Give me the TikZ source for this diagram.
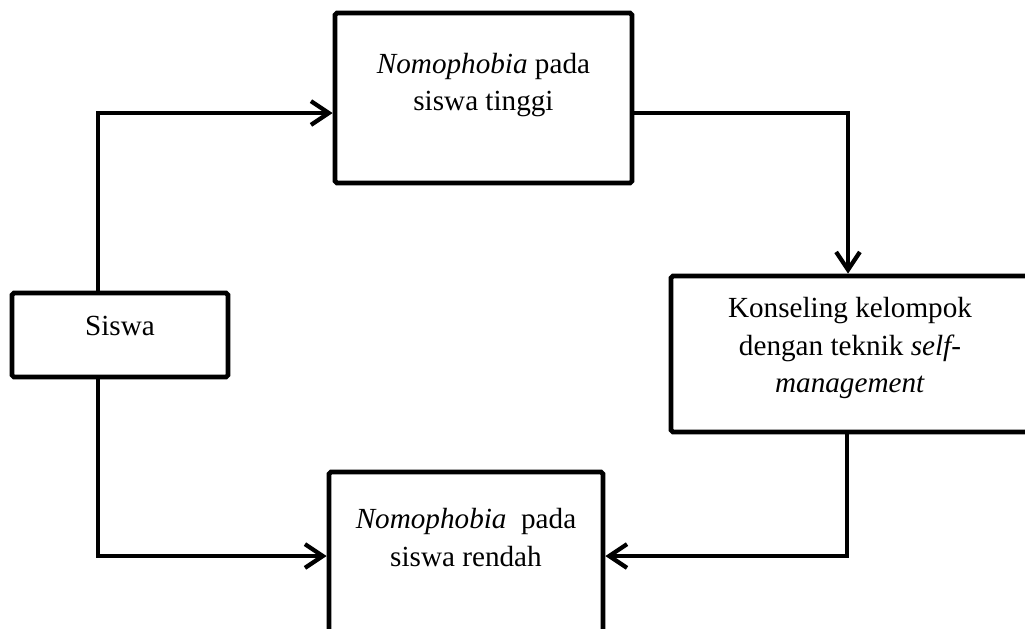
\documentclass[tikz,border=0pt]{standalone}
\usepackage{fontspec}
\setmainfont{Liberation Serif}
\usetikzlibrary{arrows.meta}

\tikzset{
	box/.style={draw, line width=2pt, rounded corners=0.8pt, inner sep=0pt},
	txt/.style={inner sep=0pt, align=center, font=\fontsize{12.3}{15.8}\selectfont},
	arr/.style={line width=1.8pt, line join=miter, -{Straight Barb[length=7.5pt,width=10pt,line width=1.8pt]}}
}

\begin{document}
\begin{tikzpicture}[x=0.4215pt, y=-0.4215pt]
	\clip (0, 0) rectangle (1025, 629);

	\node[box, minimum width=216*0.4215pt, minimum height=84*0.4215pt] (siswa) at (120, 335) {};
	\node[box, minimum width=297*0.4215pt, minimum height=170*0.4215pt] (tinggi) at (483.5, 98) {};
	\node[box, minimum width=358*0.4215pt, minimum height=156*0.4215pt] (konseling) at (850, 354) {};
	\node[box, minimum width=274*0.4215pt, minimum height=200*0.4215pt] (rendah) at (466, 572) {};

	\node[txt, anchor=base] (siswaT) at (120, 335) {Siswa};
	\node[txt, anchor=north] (tinggiT) at (483.5, 52.5) {\textit{Nomophobia} pada\\siswa tinggi};
	\node[txt, anchor=north] (konselingT) at (850, 297) {Konseling kelompok\\dengan teknik \textit{self-}\\\textit{management}};
	\node[txt, anchor=north] (rendahT) at (466, 508) {\textit{Nomophobia}~ pada\\siswa rendah};

	\coordinate (b1) at (98, 113);
	\coordinate (b2) at (848, 113);
	\coordinate (b3) at (98, 556);
	\coordinate (b4) at (847, 556);

	\draw[arr] (siswa.north -| b1) |- (tinggi.west |- b1);
	\draw[arr] (tinggi.east |- b2) -| (konseling.north -| b2);
	\draw[arr] (siswa.south -| b3) |- (rendah.west |- b3);
	\draw[arr] (konseling.south -| b4) |- (rendah.east |- b4);

\end{tikzpicture}
\end{document}
